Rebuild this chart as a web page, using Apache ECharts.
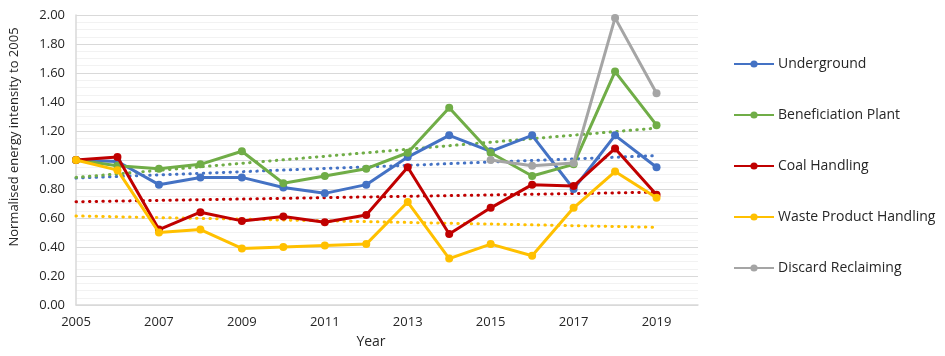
<!DOCTYPE html>
<html>
<head>
<meta charset="utf-8">
<script src="https://cdn.jsdelivr.net/npm/echarts@6/dist/echarts.min.js"></script>
<style>
html,body{margin:0;padding:0;background:#fff;}
#chart{width:945px;height:356px;}
</style>
</head>
<body>
<div id="chart"></div>
<script>
const years = ['2005','2006','2007','2008','2009','2010','2011','2012','2013','2014','2015','2016','2017','2018','2019','2020'];
const underground = [1.00, 0.99, 0.83, 0.88, 0.88, 0.81, 0.77, 0.83, 1.02, 1.17, 1.06, 1.17, 0.80, 1.17, 0.95];
const beneficiation = [1.00, 0.96, 0.94, 0.97, 1.06, 0.84, 0.89, 0.94, 1.05, 1.36, 1.05, 0.89, 0.97, 1.61, 1.24];
const coalHandling = [1.00, 1.02, 0.52, 0.64, 0.58, 0.61, 0.57, 0.62, 0.95, 0.49, 0.67, 0.83, 0.82, 1.08, 0.76];
const wasteHandling = [1.00, 0.93, 0.50, 0.52, 0.39, 0.40, 0.41, 0.42, 0.71, 0.32, 0.42, 0.34, 0.67, 0.92, 0.74];
const discardReclaiming = [null, null, null, null, null, null, null, null, null, null, 1.00, 0.96, 0.98, 1.98, 1.46];
// linear trend line end points (2005, 2019)
const trendUnderground = [0.875, 1.03];
const trendBeneficiation = [0.88, 1.22];
const trendCoal = [0.712, 0.778];
const trendWaste = [0.614, 0.536];
const yTicks = [0, 0.2, 0.4, 0.6, 0.8, 1.0, 1.2, 1.4, 1.6, 1.8, 2.0];

const names = ['Underground','Beneficiation Plant','Coal Handling','Waste Product Handling','Discard Reclaiming'];
const colors = ['#4472C4','#70AD47','#C00000','#FFC000','#A5A5A5'];
const dataSets = [underground, beneficiation, coalHandling, wasteHandling, discardReclaiming];
const trends = [trendUnderground, trendBeneficiation, trendCoal, trendWaste];

const series = [];
trends.forEach((t, i) => {
  series.push({
    name: names[i] + ' trend',
    type: 'line',
    data: [[years[0], t[0]], [years[14], t[1]]],
    symbol: 'none',
    silent: true,
    z: 1,
    lineStyle: {color: colors[i], width: 3, type: [0.5, 6.2], cap: 'round'}
  });
});
dataSets.forEach((d, i) => {
  series.push({
    name: names[i],
    type: 'line',
    data: d,
    symbol: 'circle',
    symbolSize: 8,
    z: 3 + i,
    itemStyle: {color: colors[i]},
    lineStyle: {color: colors[i], width: 3}
  });
});

const chart = echarts.init(document.getElementById('chart'), null, {renderer: 'canvas'});
chart.setOption({
  animation: false,
  textStyle: {fontFamily: 'Open Sans'},
  grid: {left: 76, top: 15, right: 247, bottom: 51, containLabel: false},
  legend: {
    orient: 'vertical',
    left: 733,
    top: 57,
    padding: 0,
    itemWidth: 40,
    itemHeight: 9,
    itemGap: 37,
    data: names,
    textStyle: {fontSize: 14, color: '#262626', fontFamily: 'Open Sans', padding: [0, 0, 0, -1]}
  },
  xAxis: {
    type: 'category',
    data: years,
    boundaryGap: false,
    name: 'Year',
    nameLocation: 'middle',
    nameGap: 30,
    nameTextStyle: {fontSize: 14, color: '#262626', padding: [0, 32, 0, 0]},
    axisLine: {lineStyle: {color: '#d9d9d9', width: 1.5}},
    axisTick: {show: false},
    axisLabel: {interval: 1, color: '#262626', fontSize: 13, margin: 11},
    splitLine: {show: false}
  },
  yAxis: {
    type: 'value',
    min: yTicks[0],
    max: yTicks[yTicks.length - 1],
    interval: 0.2,
    name: 'Normalised energy intensity to 2005',
    nameLocation: 'middle',
    nameGap: 55,
    nameTextStyle: {fontSize: 13, color: '#262626', padding: [0, 0, 0, 46]},
    axisLine: {show: true, lineStyle: {color: '#d9d9d9', width: 1.5}},
    axisTick: {show: false},
    axisLabel: {color: '#262626', fontSize: 13, margin: 11, formatter: v => v.toFixed(2)},
    splitLine: {lineStyle: {color: '#d9d9d9', width: 1}},
    minorTick: {show: false, splitNumber: 4},
    minorSplitLine: {show: true, lineStyle: {color: '#f2f2f2', width: 1}}
  },
  series: series
});
</script>
</body>
</html>
